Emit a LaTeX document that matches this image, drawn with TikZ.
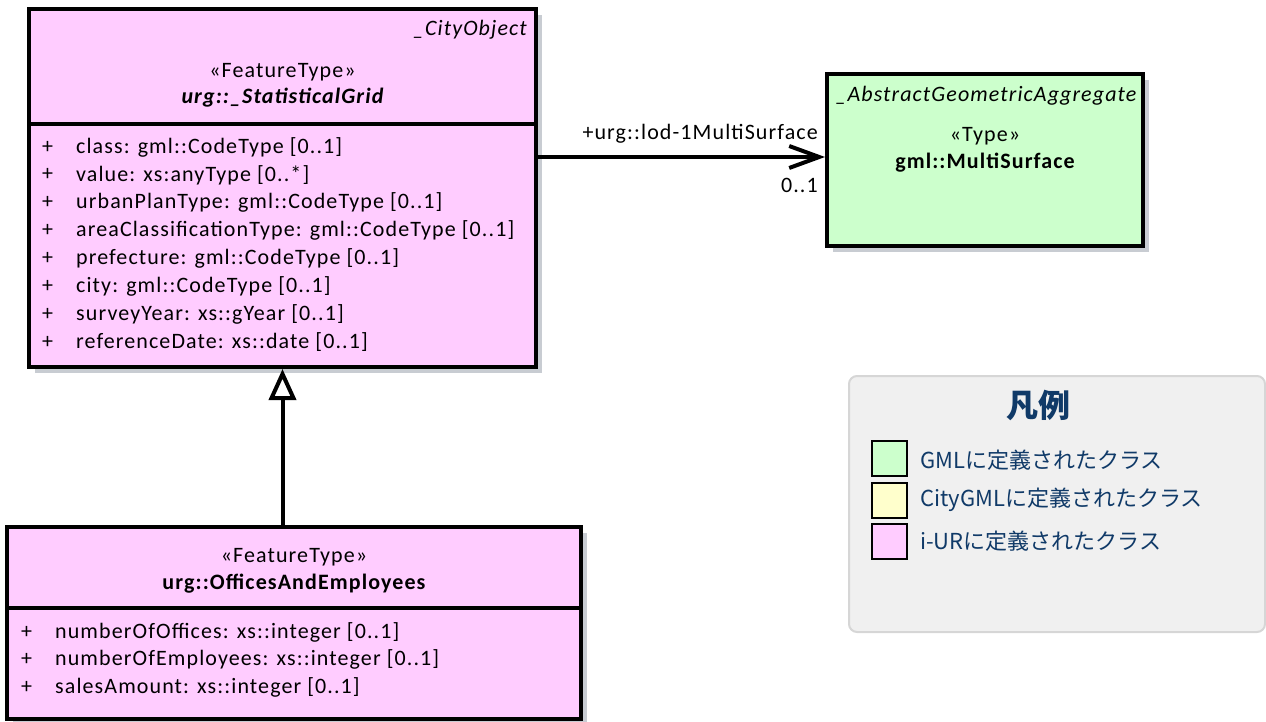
\documentclass[tikz,border=0pt]{standalone}
\usepackage{fontspec}
\setmainfont{Carlito}[LetterSpace=5]
\newfontfamily\jpfont{Noto Sans CJK JP}
\usepackage{tikz}
\usetikzlibrary{positioning}
\usetikzlibrary{calc}
\usetikzlibrary{arrows.meta,shadows}

\definecolor{pinkfill}{HTML}{FFCCFF}
\definecolor{greenfill}{HTML}{CCFFCC}
\definecolor{yellowfill}{HTML}{FFFFCC}
\definecolor{shadowgray}{HTML}{C8CCD2}
\definecolor{legendgray}{HTML}{F0F0F0}
\definecolor{legendborder}{HTML}{D6D6D6}
\definecolor{legendblue}{RGB}{16,58,104}

\begin{document}
\begin{tikzpicture}[x=1pt,y=-1pt]
\tikzstyle{umlclass} =[rectangle,draw=black,line width=4pt,drop shadow={shadow xshift=6pt,shadow yshift=-6pt,fill=shadowgray,opacity=1}]
\tikzstyle{txt} =[inner sep=0pt,font=\fontsize{22}{26}\selectfont]
\tikzstyle{attr} =[txt,anchor=west]
\tikzstyle{legendkey} =[rectangle,draw=black,line width=2pt,minimum size=35pt]
\tikzstyle{legendtext} =[inner sep=0pt,anchor=west,text=legendblue,font=\jpfont\fontsize{22}{26}\selectfont]

\useasboundingbox (0,0) rectangle (1266,722);

% _StatisticalGrid
\node[umlclass,fill=pinkfill,minimum width=507pt,minimum height=358pt](grid) at (282.5,188){};
\draw[line width=4pt] (grid.west |- 0,124) -- (grid.east |- 0,124);
\node[txt,anchor=east](gridpkg) at (527,30){\itshape \_CityObject};
\node[txt](gridstereo) at (282.5,72){«FeatureType»};
\node[txt](gridname) at (282.5,98){\bfseries\itshape urg::\_StatisticalGrid};
\foreach \txt [count=\i] in {class: gml::CodeType [0..1],value: xs:anyType [0..*],urbanPlanType: gml::CodeType [0..1],areaClassificationType: gml::CodeType [0..1],prefecture: gml::CodeType [0..1],city: gml::CodeType [0..1],surveyYear: xs::gYear [0..1],referenceDate: xs::date [0..1]}{
  \node[attr](gridvis\i) at (42,{147+27.9*(\i-1)}){+};
  \node[attr](gridattr\i) at (76,{147+27.9*(\i-1)}){\txt};
}

% OfficesAndEmployees
\node[umlclass,fill=pinkfill,minimum width=574pt,minimum height=192pt](offices) at (294,623){};
\draw[line width=4pt] (offices.west |- 0,608) -- (offices.east |- 0,608);
\node[txt](officesstereo) at (294,557){«FeatureType»};
\node[txt](officesname) at (294,584){\bfseries urg::OfficesAndEmployees};
\foreach \txt [count=\i] in {numberOfOffices: xs::integer [0..1],numberOfEmployees: xs::integer [0..1],salesAmount: xs::integer [0..1]}{
  \node[attr](officesvis\i) at (21,{632+27.5*(\i-1)}){+};
  \node[attr](officesattr\i) at (55,{632+27.5*(\i-1)}){\txt};
}

% gml::MultiSurface
\node[umlclass,fill=greenfill,minimum width=316pt,minimum height=172pt](multi) at (985,160){};
\node[txt](multipkg) at (986,96){\itshape \_AbstractGeometricAggregate};
\node[txt](multistereo) at (985,136){«Type»};
\node[txt](multiname) at (985,163){\bfseries gml::MultiSurface};

% connectors
\draw[line width=4pt,-{Triangle[open,length=31pt 0,width=27pt 0]}] (offices.north -| grid.south) -- (grid.south);
\draw[line width=4pt,-{Straight Barb[length=30pt 0,width=22pt 0]}] (grid.east |- 0,157) -- ([yshift=3pt]multi.west);
\node[txt,anchor=east](role) at (818,134){+urg::lod-1MultiSurface};
\node[txt,anchor=east](mult) at (818,185){0..1};

% legend
\node[rectangle,rounded corners=8pt,draw=legendborder,line width=2pt,fill=legendgray,minimum width=416pt,minimum height=256pt](legend) at (1057,504){};
\node[inner sep=0pt,text=legendblue,font=\jpfont\bfseries\fontsize{32}{36}\selectfont](legendtitle) at (1038,405){凡例};
\node[legendkey,fill=greenfill](keygml) at (889.5,458.5){};
\node[legendkey,fill=yellowfill](keycitygml) at (889.5,500){};
\node[legendkey,fill=pinkfill](keyiur) at (889.5,541.5){};
\node[legendtext](textgml) at (920,460){GMLに定義されたクラス};
\node[legendtext](textcitygml) at (920,500){CityGMLに定義されたクラス};
\node[legendtext](textiur) at (920,541){i-URに定義されたクラス};
\end{tikzpicture}
\end{document}
